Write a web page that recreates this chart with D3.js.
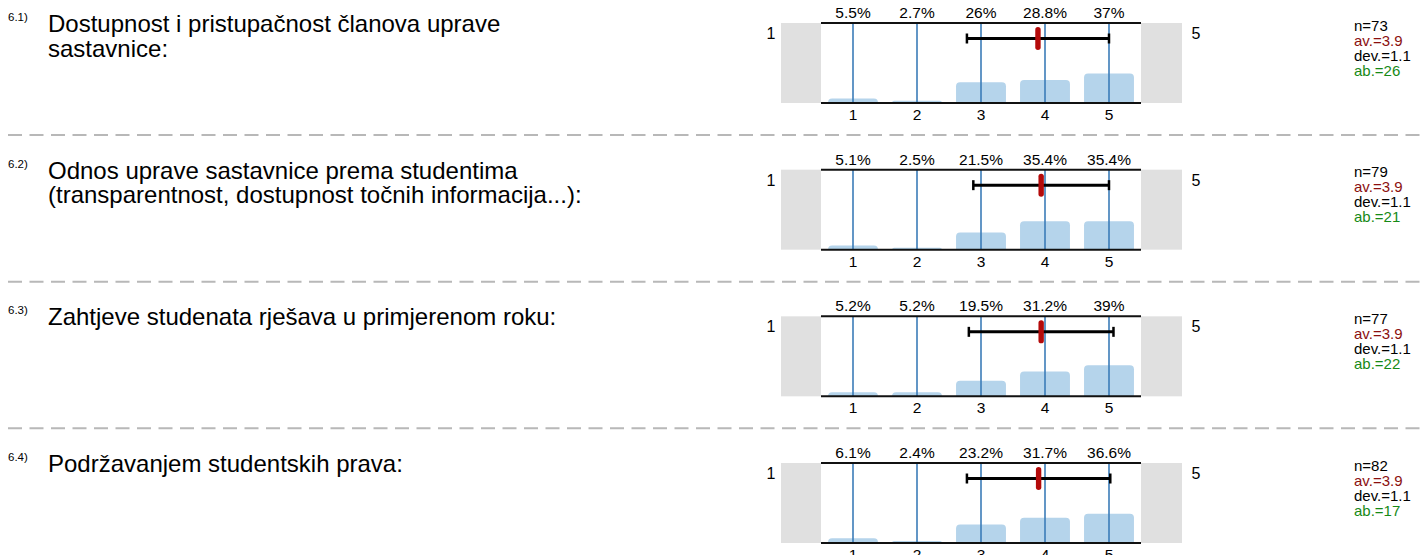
<!DOCTYPE html>
<html>
<head>
<meta charset="utf-8">
<script src="https://cdn.jsdelivr.net/npm/d3@7/dist/d3.min.js"></script>
<style>
  html, body { margin: 0; padding: 0; background: #fff; }
  svg { display: block; font-family: "Liberation Sans", Arial, sans-serif; }
</style>
</head>
<body>
<svg id="chart" width="1421" height="555"></svg>
<script>
// Question numbers and texts (one array entry per question, lines split for wrapping)
const questionIds = ["6.1)", "6.2)", "6.3)", "6.4)"];
const questionLines = [
  ["Dostupnost i pristupačnost članova uprave", "sastavnice:"],
  ["Odnos uprave sastavnice prema studentima", "(transparentnost, dostupnost točnih informacija...):"],
  ["Zahtjeve studenata rješava u primjerenom roku:"],
  ["Podržavanjem studentskih prava:"]
];

// Answer scale
const categories = [1, 2, 3, 4, 5];
const scaleMinLabel = "1";
const scaleMaxLabel = "5";

// Share of answers per category, in percent
const percents = [
  [5.5, 2.7, 26, 28.8, 37],
  [5.1, 2.5, 21.5, 35.4, 35.4],
  [5.2, 5.2, 19.5, 31.2, 39],
  [6.1, 2.4, 23.2, 31.7, 36.6]
];

// Summary statistics
const nValues = [73, 79, 77, 82];
const means = [3.89, 3.94, 3.94, 3.90];
const deviations = [1.11, 1.06, 1.13, 1.12];
const abstentions = [26, 21, 22, 17];

const svg = d3.select("#chart");

const rowStep = 146.67;
const firstTop = 23;
const plotLeft = 821, plotRight = 1141;
const plotHeight = 80;
const padWidth = 40;

const xBand = d3.scaleBand()
  .domain(categories)
  .range([plotLeft, plotRight])
  .paddingInner(0.22)
  .paddingOuter(0.11);
const xCenter = c => xBand(c) + xBand.bandwidth() / 2;
const xValue = d3.scaleLinear()
  .domain([categories[0], categories[categories.length - 1]])
  .range([xCenter(categories[0]), xCenter(categories[categories.length - 1])]);

// rounded-top bar path
function barPath(x, y, w, h, r) {
  r = Math.min(r, h, w / 2);
  return `M${x},${y + h}V${y + r}Q${x},${y} ${x + r},${y}H${x + w - r}Q${x + w},${y} ${x + w},${y + r}V${y + h}Z`;
}

questionIds.forEach((qid, i) => {
  const top = firstTop + i * rowStep;
  const bottom = top + plotHeight;
  const g = svg.append("g");
  const y = d3.scaleLinear().domain([0, 100]).range([bottom, top]);

  // question number and text
  g.append("text")
    .attr("x", 8).attr("y", top - 2)
    .attr("font-size", 11.5).attr("fill", "#000")
    .text(qid);
  const title = g.append("text")
    .attr("x", 48).attr("y", top + 9)
    .attr("font-size", 24).attr("fill", "#000");
  questionLines[i].forEach((line, k) => {
    title.append("tspan").attr("x", 48).attr("dy", k === 0 ? 0 : 24.5).text(line);
  });

  // grey end pads
  g.append("rect").attr("x", plotLeft - padWidth).attr("y", top)
    .attr("width", padWidth).attr("height", plotHeight).attr("fill", "#e0e0e0");
  g.append("rect").attr("x", plotRight).attr("y", top)
    .attr("width", padWidth + 1).attr("height", plotHeight).attr("fill", "#e0e0e0");

  // scale end labels
  g.append("text").attr("x", 771).attr("y", top + 16)
    .attr("text-anchor", "middle").attr("font-size", 16).text(scaleMinLabel);
  g.append("text").attr("x", 1196).attr("y", top + 16)
    .attr("text-anchor", "middle").attr("font-size", 16).text(scaleMaxLabel);

  // bars
  g.selectAll("path.bar")
    .data(categories.map((c, k) => ({ c, v: percents[i][k] })))
    .join("path")
    .attr("class", "bar")
    .attr("fill", "#b5d4eb")
    .attr("d", d => barPath(xBand(d.c), y(d.v), xBand.bandwidth(), bottom - y(d.v), 4));

  // category guide lines
  g.selectAll("line.guide")
    .data(categories)
    .join("line")
    .attr("class", "guide")
    .attr("x1", d => xCenter(d)).attr("x2", d => xCenter(d))
    .attr("y1", top).attr("y2", bottom)
    .attr("stroke", "#3b7cb8").attr("stroke-width", 1.6);

  // top and bottom rules
  [top, bottom].forEach(yy => {
    g.append("line").attr("x1", plotLeft).attr("x2", plotRight)
      .attr("y1", yy).attr("y2", yy)
      .attr("stroke", "#111").attr("stroke-width", 2);
  });

  // percentage labels
  g.selectAll("text.pct")
    .data(categories.map((c, k) => ({ c, v: percents[i][k] })))
    .join("text")
    .attr("class", "pct")
    .attr("x", d => xCenter(d.c)).attr("y", top - 5)
    .attr("text-anchor", "middle").attr("font-size", 15.5)
    .text(d => d.v + "%");

  // category axis
  const axis = d3.axisBottom(xBand).tickSize(0).tickPadding(0);
  const ax = g.append("g").attr("transform", `translate(0,${bottom})`).call(axis);
  ax.select(".domain").remove();
  ax.selectAll("text").attr("font-size", 15.5).attr("fill", "#000")
    .attr("font-family", "Liberation Sans, Arial, sans-serif")
    .attr("dy", null).attr("y", 17);

  // mean +/- deviation
  const ey = top + 15.5;
  const lo = xValue(means[i] - deviations[i]);
  const hi = xValue(means[i] + deviations[i]);
  g.append("line").attr("x1", lo).attr("x2", hi).attr("y1", ey).attr("y2", ey)
    .attr("stroke", "#000").attr("stroke-width", 3);
  [lo, hi].forEach(xx => {
    g.append("line").attr("x1", xx).attr("x2", xx).attr("y1", ey - 5).attr("y2", ey + 5)
      .attr("stroke", "#000").attr("stroke-width", 2.5);
  });
  g.append("rect")
    .attr("x", xValue(means[i]) - 2.7).attr("y", ey - 11.5)
    .attr("width", 5.4).attr("height", 23).attr("rx", 2.7)
    .attr("fill", "#b40a0a");

  // statistics block
  const stats = [
    { t: "n=" + nValues[i], c: "#000" },
    { t: "av.=" + means[i].toFixed(1), c: "#8b0f0f" },
    { t: "dev.=" + deviations[i].toFixed(1), c: "#000" },
    { t: "ab.=" + abstentions[i], c: "#168a16" }
  ];
  g.selectAll("text.stat")
    .data(stats)
    .join("text")
    .attr("class", "stat")
    .attr("x", 1354).attr("y", (d, k) => top + 7.5 + k * 15)
    .attr("font-size", 15).attr("fill", d => d.c)
    .text(d => d.t);

  // dashed separator below each block except the last
  if (i < questionIds.length - 1) {
    const sy = top + 112;
    g.append("line").attr("x1", 8).attr("x2", 1421).attr("y1", sy).attr("y2", sy)
      .attr("stroke", "#b8b8b8").attr("stroke-width", 2)
      .attr("stroke-dasharray", "14,7.5");
  }
});
</script>
</body>
</html>
